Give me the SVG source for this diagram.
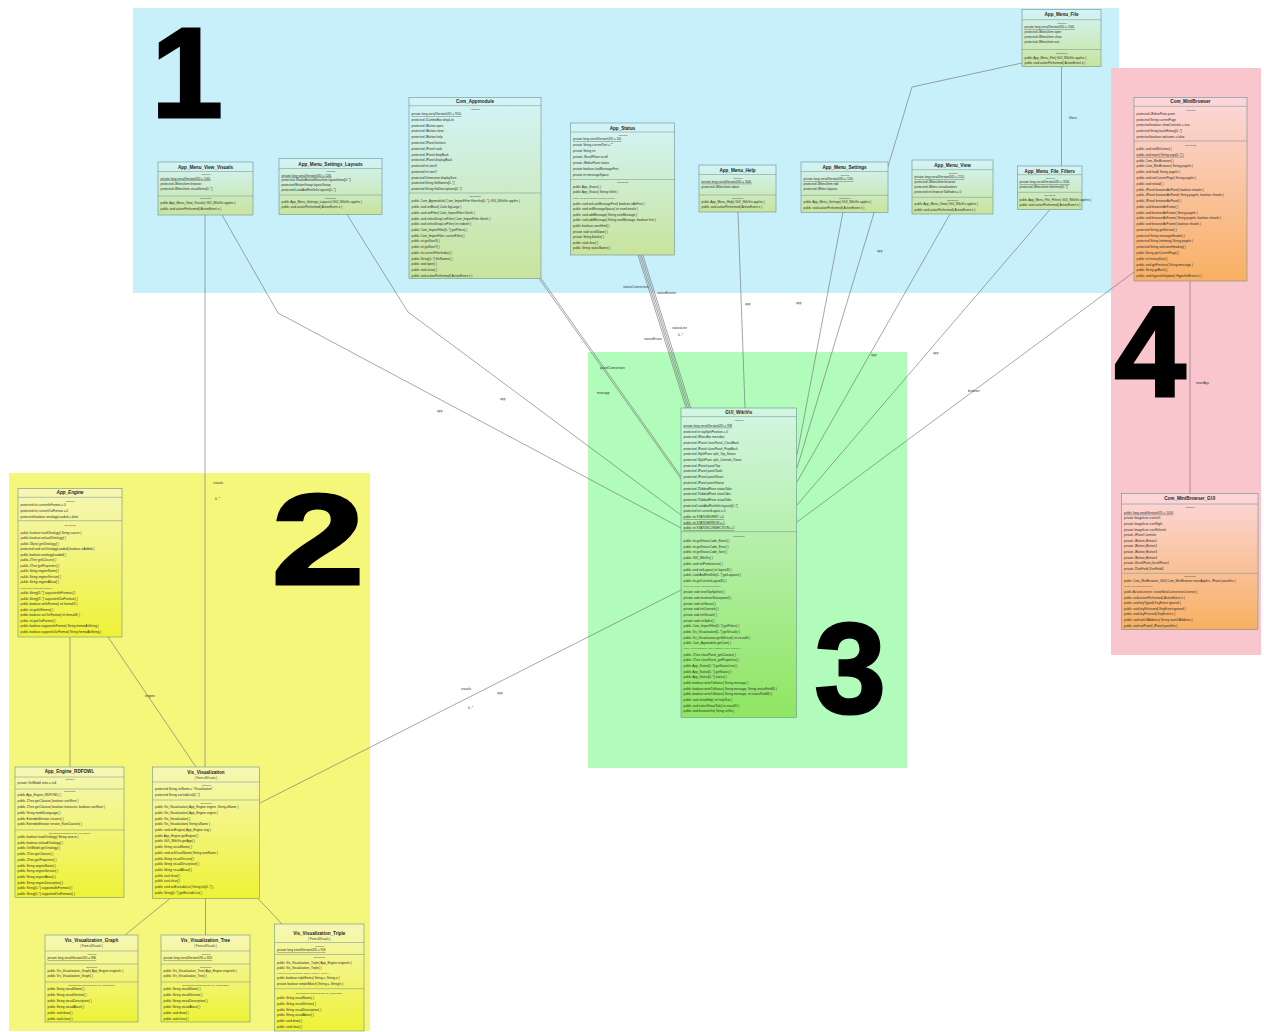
<svg xmlns="http://www.w3.org/2000/svg" width="1264" height="1032" viewBox="0 0 1264 1032">
<defs>
<linearGradient id="gBlue" x1="0" y1="0" x2="0" y2="1"><stop offset="0" stop-color="#d3f4f8"/><stop offset="1" stop-color="#c8e49c"/></linearGradient>
<linearGradient id="gGreen" x1="0" y1="0" x2="0" y2="1"><stop offset="0" stop-color="#d2f6e2"/><stop offset="1" stop-color="#8fe661"/></linearGradient>
<linearGradient id="gYellow" x1="0" y1="0" x2="0" y2="1"><stop offset="0" stop-color="#f6f7b6"/><stop offset="1" stop-color="#eef236"/></linearGradient>
<linearGradient id="gPink" x1="0" y1="0" x2="0" y2="1"><stop offset="0" stop-color="#fcd7dc"/><stop offset="1" stop-color="#f8b062"/></linearGradient>
<style>
text{font-family:"Liberation Sans",Arial,sans-serif}
.box{stroke:#6f8f8f;stroke-width:0.6}
.sep{stroke:#6f8f8f;stroke-width:0.5}
.t{font-weight:bold;font-size:4.6px;fill:#1e1e1e;text-anchor:middle}
.f{font-size:2.8px;fill:#333;text-anchor:middle}
.h{font-size:2.3px;fill:#444;text-anchor:middle}
.m{font-size:3.1px;fill:#2b2b2b}
.u{text-decoration:underline}
.i{font-style:italic}
.sq{font-size:2.2px;fill:#555}
.cn line,.cn polyline{stroke:#6c6c6c;stroke-width:0.6;fill:none}
.lb{font-size:3.3px;fill:#333}
.num{font-weight:bold;font-size:128px;fill:#000;stroke:#000;stroke-width:3;text-anchor:middle}
</style>
</defs>

<!-- package areas -->
<g id="areas">
<rect x="133" y="8" width="986" height="285" fill="#c8f0fa"/>
<rect x="1111" y="68" width="150" height="587" fill="#f9c6cd"/>
<rect x="9" y="473" width="361" height="558" fill="#f5f77b"/>
<rect x="588" y="352" width="319" height="416" fill="#b1fbbb"/>
</g>
<g id="area-numbers">
<text class="num" x="187" y="117">1</text>
<text class="num" x="318" y="584" transform="translate(318 0) scale(1.3 1) translate(-318 0)">2</text>
<text class="num" x="850" y="713">3</text>
<text class="num" x="1150" y="396">4</text>
</g>

<!-- associations -->
<g id="connectors" class="cn">
<line x1="1061.5" y1="66.5" x2="1061.5" y2="166"/>
<polyline points="1022,63 912,87 797,468"/>
<line x1="843" y1="212" x2="797" y2="455"/>
<line x1="950" y1="214" x2="797" y2="482"/>
<line x1="1050" y1="209.5" x2="797" y2="505"/>
<line x1="1134" y1="272" x2="797" y2="522"/>
<line x1="738" y1="212" x2="745" y2="408"/>
<line x1="539" y1="278.5" x2="681" y2="479"/>
<line x1="541" y1="278.5" x2="681" y2="476.5"/>
<line x1="638" y1="255" x2="686" y2="408"/>
<line x1="639.6" y1="255" x2="687.6" y2="408"/>
<line x1="641.2" y1="255" x2="689.2" y2="408"/>
<line x1="642.8" y1="255" x2="690.8" y2="408"/>
<polyline points="222,215 278,313 681,528"/>
<polyline points="347,214.5 408,312 681,515"/>
<line x1="260" y1="803" x2="681" y2="590"/>
<line x1="205" y1="215" x2="205" y2="767"/>
<line x1="70" y1="637" x2="70" y2="767"/>
<line x1="108" y1="637" x2="196" y2="767"/>
<line x1="170" y1="898.5" x2="125" y2="935"/>
<line x1="205.5" y1="898.5" x2="205.5" y2="935"/>
<line x1="258" y1="898.5" x2="282" y2="924"/>
<line x1="1190" y1="281" x2="1190" y2="493.5"/>
<text class="lb" x="1069" y="119">filters</text>
<text class="lb" x="877" y="252">app</text>
<text class="lb" x="796" y="304">app</text>
<text class="lb" x="745" y="305">app</text>
<text class="lb" x="871" y="356">app</text>
<text class="lb" x="933" y="354">app</text>
<text class="lb" x="968" y="392">browser</text>
<text class="lb" x="1196" y="384">mainApp</text>
<text class="lb" x="623" y="288">statusConnection</text>
<text class="lb" x="657" y="294">statusEvents</text>
<text class="lb" x="644" y="340">statusErrors</text>
<text class="lb" x="672" y="329">statusLine</text>
<text class="lb" x="678" y="336">0..*</text>
<text class="lb" x="600" y="369">panelConnection</text>
<text class="lb" x="597" y="394">mainapp</text>
<text class="lb" x="500" y="400">app</text>
<text class="lb" x="437" y="412">app</text>
<text class="lb" x="461" y="690">visuals</text>
<text class="lb" x="497" y="694">app</text>
<text class="lb" x="468" y="709">0..*</text>
<text class="lb" x="213" y="484">visuals</text>
<text class="lb" x="215" y="500">0..*</text>
<text class="lb" x="145" y="697">engine</text>
</g>

<!-- classes -->
<g id="App_Menu_File">
<rect class="box" x="1022" y="9.5" width="79" height="57" fill="url(#gBlue)"/>
<text class="t" x="1061.5" y="16.2">App_Menu_File</text>
<line class="sep" x1="1022" y1="19.7" x2="1101" y2="19.7"/>
<text class="h" x="1061.5" y="23.8">Attributes</text>
<text class="m u" x="1024.5" y="28.4">private long serialVersionUID = 200L</text>
<text class="m" x="1024.5" y="33.4">protected JMenuItem open</text>
<text class="m" x="1024.5" y="38.4">protected JMenuItem close</text>
<text class="m" x="1024.5" y="43.4">protected JMenuItem exit</text>
<line class="sep" x1="1022" y1="49.5" x2="1101" y2="49.5"/>
<text class="h" x="1061.5" y="53.6">Operations</text>
<text class="m" x="1024.5" y="58.9">public App_Menu_File( GUI_WikiVis appIns )</text>
<text class="m" x="1024.5" y="63.6">public void actionPerformed( ActionEvent e )</text>
</g>

<g id="App_Menu_File_Filters">
<rect class="box" x="1017.5" y="166" width="64.5" height="43.5" fill="url(#gBlue)"/>
<text class="t" x="1049.75" y="172.8">App_Menu_File_Filters</text>
<line class="sep" x1="1017.5" y1="174.7" x2="1082" y2="174.7"/>
<text class="h" x="1049.75" y="178.6">Attributes</text>
<text class="m u" x="1019.5" y="183.4">private long serialVersionUID = 313L</text>
<text class="m" x="1019.5" y="187.8">protected JMenuItem filterItem[0..*]</text>
<line class="sep" x1="1017.5" y1="192.3" x2="1082" y2="192.3"/>
<text class="h" x="1049.75" y="196.2">Operations</text>
<text class="m" x="1019.5" y="200.8">public App_Menu_File_Filters( GUI_WikiVis appIns )</text>
<text class="m" x="1019.5" y="205.8">public void actionPerformed( ActionEvent e )</text>
</g>

<g id="App_Menu_View">
<rect class="box" x="912" y="160" width="81" height="54" fill="url(#gBlue)"/>
<text class="t" x="952.5" y="167">App_Menu_View</text>
<line class="sep" x1="912" y1="169.7" x2="993" y2="169.7"/>
<text class="h" x="952.5" y="173.8">Attributes</text>
<text class="m u" x="914.5" y="178.1">private long serialVersionUID = 211L</text>
<text class="m" x="914.5" y="183.1">protected JMenuItem browser</text>
<text class="m" x="914.5" y="188.4">protected JMenu visualisations</text>
<text class="m" x="914.5" y="193.4">protected int browserTabIndex = 0</text>
<line class="sep" x1="912" y1="197.3" x2="993" y2="197.3"/>
<text class="h" x="952.5" y="201.1">Operations</text>
<text class="m" x="914.5" y="205.1">public App_Menu_View( GUI_WikiVis appIns )</text>
<text class="m" x="914.5" y="210.8">public void actionPerformed( ActionEvent e )</text>
</g>

<g id="App_Menu_Settings">
<rect class="box" x="801" y="162" width="87" height="50.3" fill="url(#gBlue)"/>
<text class="t" x="844.5" y="169.4">App_Menu_Settings</text>
<line class="sep" x1="801" y1="171.5" x2="888" y2="171.5"/>
<text class="h" x="844.5" y="176.1">Attributes</text>
<text class="m u" x="803.5" y="180.1">private long serialVersionUID = 110L</text>
<text class="m" x="803.5" y="185.1">protected JMenuItem edit</text>
<text class="m" x="803.5" y="189.8">protected JMenu layouts</text>
<line class="sep" x1="801" y1="195.3" x2="888" y2="195.3"/>
<text class="h" x="844.5" y="198.8">Operations</text>
<text class="m" x="803.5" y="203.4">public App_Menu_Settings( GUI_WikiVis appIns )</text>
<text class="m" x="803.5" y="209.1">public void actionPerformed( ActionEvent e )</text>
</g>

<g id="App_Menu_Help">
<rect class="box" x="699" y="165" width="77" height="47" fill="url(#gBlue)"/>
<text class="t" x="737.5" y="172">App_Menu_Help</text>
<line class="sep" x1="699" y1="174.5" x2="776" y2="174.5"/>
<text class="h" x="737.5" y="178.5">Attributes</text>
<text class="m u" x="701.5" y="182.8">private long serialVersionUID = 300L</text>
<text class="m" x="701.5" y="188">protected JMenuItem about</text>
<line class="sep" x1="699" y1="195" x2="776" y2="195"/>
<text class="h" x="737.5" y="198.6">Operations</text>
<text class="m" x="701.5" y="202.8">public App_Menu_Help( GUI_WikiVis appIns )</text>
<text class="m" x="701.5" y="207.8">public void actionPerformed( ActionEvent e )</text>
</g>

<g id="App_Menu_View_Visuals">
<rect class="box" x="158" y="162" width="95" height="53" fill="url(#gBlue)"/>
<text class="t" x="205.5" y="168.8">App_Menu_View_Visuals</text>
<line class="sep" x1="158" y1="171.5" x2="253" y2="171.5"/>
<text class="h" x="205.5" y="175.2">Attributes</text>
<text class="m u" x="160.5" y="179.6">private long serialVersionUID = 100L</text>
<text class="m" x="160.5" y="184.6">protected JMenuItem browser</text>
<text class="m" x="160.5" y="189.6">protected JMenuItem visualItems[0..*]</text>
<line class="sep" x1="158" y1="196" x2="253" y2="196"/>
<text class="h" x="205.5" y="199.3">Operations</text>
<text class="m" x="160.5" y="204">public App_Menu_View_Visuals( GUI_WikiVis appIns )</text>
<text class="m" x="160.5" y="209.5">public void actionPerformed( ActionEvent e )</text>
</g>

<g id="App_Menu_Settings_Layouts">
<rect class="box" x="279" y="158.5" width="103" height="56" fill="url(#gBlue)"/>
<text class="t" x="330.5" y="165.5">App_Menu_Settings_Layouts</text>
<line class="sep" x1="279" y1="168.5" x2="382" y2="168.5"/>
<text class="h" x="330.5" y="172.2">Attributes</text>
<text class="m u" x="281.5" y="176.6">private long serialVersionUID = 120L</text>
<text class="m" x="281.5" y="181.4">protected JRadioButtonMenuItem layoutItems[0..*]</text>
<text class="m" x="281.5" y="186.2">protected ButtonGroup layoutGroup</text>
<text class="m" x="281.5" y="191">protected LookAndFeelInfo layouts[0..*]</text>
<line class="sep" x1="279" y1="195" x2="382" y2="195"/>
<text class="h" x="330.5" y="198.6">Operations</text>
<text class="m" x="281.5" y="203">public App_Menu_Settings_Layouts( GUI_WikiVis appIns )</text>
<text class="m" x="281.5" y="208.2">public void actionPerformed( ActionEvent e )</text>
</g>

<g id="Com_Appmodule">
<rect class="box" x="409" y="97.5" width="132" height="181" fill="url(#gBlue)"/>
<text class="t" x="475" y="103">Com_Appmodule</text>
<line class="sep" x1="409" y1="105.7" x2="541" y2="105.7"/>
<text class="h" x="475" y="109.8">Attributes</text>
<text class="m u" x="411.5" y="115.1">private long serialVersionUID = 911L</text>
<text class="m" x="411.5" y="120.9">protected JComboBox dropList</text>
<text class="m" x="411.5" y="126.6">protected JButton open</text>
<text class="m" x="411.5" y="132.4">protected JButton close</text>
<text class="m" x="411.5" y="138.2">protected JButton help</text>
<text class="m" x="411.5" y="144">protected JPanel buttons</text>
<text class="m" x="411.5" y="149.7">protected JPanel tools</text>
<text class="m" x="411.5" y="155.5">protected JPanel dropBack</text>
<text class="m" x="411.5" y="161.3">protected JPanel displayBack</text>
<text class="m" x="411.5" y="167">protected int sizeX</text>
<text class="m" x="411.5" y="172.8">protected int sizeY</text>
<text class="m" x="411.5" y="178.6">protected Dimension displaySize</text>
<text class="m" x="411.5" y="184.3">protected String fileNames[0..*]</text>
<text class="m" x="411.5" y="190.1">protected String fileDescriptions[0..*]</text>
<line class="sep" x1="409" y1="193" x2="541" y2="193"/>
<text class="h" x="475" y="197.1">Operations</text>
<text class="m" x="411.5" y="202.4">public Com_Appmodule( Com_ImportFilter filtersIns[0..*], GUI_WikiVis appIns )</text>
<text class="m" x="411.5" y="208.1">public void setBack( Color bgLarge )</text>
<text class="m" x="411.5" y="213.8">public void setFilter( Com_ImportFilter filterIn )</text>
<text class="m" x="411.5" y="219.6">public void selectDropListFilter( Com_ImportFilter filterIn )</text>
<text class="m" x="411.5" y="225.3">public void selectDropListFilter( int indexIn )</text>
<text class="m" x="411.5" y="231">public Com_ImportFilter[0..*] getFilters( )</text>
<text class="m" x="411.5" y="236.7">public Com_ImportFilter currentFilter( )</text>
<text class="m" x="411.5" y="242.4">public int getSizeX( )</text>
<text class="m" x="411.5" y="248.2">public int getSizeY( )</text>
<text class="m" x="411.5" y="253.9">public int currentFilterIndex( )</text>
<text class="m" x="411.5" y="259.6">public String[0..*] fileNames( )</text>
<text class="m" x="411.5" y="265.3">public void open( )</text>
<text class="m" x="411.5" y="271">public void close( )</text>
<text class="m" x="411.5" y="276.8">public void actionPerformed( ActionEvent e )</text>
</g>

<g id="App_Status">
<rect class="box" x="570.5" y="123" width="104" height="132" fill="url(#gBlue)"/>
<text class="t" x="622.5" y="129.8">App_Status</text>
<line class="sep" x1="570.5" y1="132" x2="674.5" y2="132"/>
<text class="h" x="622.5" y="135.9">Attributes</text>
<text class="m u" x="573" y="140.1">private long serialVersionUID = 10L</text>
<text class="m" x="573" y="146">private String currentText = ""</text>
<text class="m" x="573" y="151.9">private String str</text>
<text class="m" x="573" y="157.8">private JScrollPane scroll</text>
<text class="m" x="573" y="163.7">private JEditorPane status</text>
<text class="m" x="573" y="169.6">private boolean lastMessageFirst</text>
<text class="m" x="573" y="175.5">private int messageSpace</text>
<line class="sep" x1="570.5" y1="179.5" x2="674.5" y2="179.5"/>
<text class="h" x="622.5" y="183.4">Operations</text>
<text class="m" x="573" y="187.8">public App_Status( )</text>
<text class="m" x="573" y="193.4">public App_Status( String titleIn )</text>
<text class="m sq" x="573" y="198.6">public void showAsFirst( boolean isAsFirst )</text>
<text class="m" x="573" y="204.6">public void setLastMessageFirst( boolean isAsFirst )</text>
<text class="m" x="573" y="210.2">public void setMessageSpace( int numLinesIn )</text>
<text class="m" x="573" y="215.8">public void addMessage( String newMessage )</text>
<text class="m" x="573" y="221.4">public void addMessage( String newMessage, boolean first )</text>
<text class="m" x="573" y="227">public boolean usesHtml( )</text>
<text class="m" x="573" y="232.6">private void scrollDown( )</text>
<text class="m" x="573" y="238.2">private String blanks( )</text>
<text class="m" x="573" y="243.8">public void clear( )</text>
<text class="m" x="573" y="249.4">public String statusName( )</text>
</g>

<g id="Com_MiniBrowser">
<rect class="box" x="1134" y="97.5" width="113" height="183.5" fill="url(#gPink)"/>
<text class="t" x="1190.5" y="103.2">Com_MiniBrowser</text>
<line class="sep" x1="1134" y1="106.3" x2="1247" y2="106.3"/>
<text class="h" x="1190.5" y="110.5">Attributes</text>
<text class="m" x="1136.5" y="115.1">protected JEditorPane pane</text>
<text class="m" x="1136.5" y="120.7">protected String currentPage</text>
<text class="m" x="1136.5" y="126.3">protected boolean showControls = true</text>
<text class="m" x="1136.5" y="131.9">protected String backHistory[0..*]</text>
<text class="m" x="1136.5" y="137.5">protected boolean welcome = false</text>
<line class="sep" x1="1134" y1="141" x2="1247" y2="141"/>
<text class="h" x="1190.5" y="145.5">Operations</text>
<text class="m" x="1136.5" y="150.1">public void setWelcome( )</text>
<text class="m u" x="1136.5" y="155.9">public void main( String args[0..*] )</text>
<text class="m" x="1136.5" y="161.6">public Com_MiniBrowser( )</text>
<text class="m" x="1136.5" y="167.4">public Com_MiniBrowser( String pageIn )</text>
<text class="m" x="1136.5" y="173.2">public void load( String pageIn )</text>
<text class="m" x="1136.5" y="178.9">public void setCurrentPage( String pageIn )</text>
<text class="m" x="1136.5" y="184.7">public void reload( )</text>
<text class="m" x="1136.5" y="190.5">public JPanel browserAsPanel( boolean showIn )</text>
<text class="m" x="1136.5" y="196.3">public JPanel browserAsPanel( String pageIn, boolean showIn )</text>
<text class="m" x="1136.5" y="202">public JPanel browserAsPanel( )</text>
<text class="m" x="1136.5" y="207.8">public void browserAsFrame( )</text>
<text class="m" x="1136.5" y="213.6">public void browserAsFrame( String pageIn )</text>
<text class="m" x="1136.5" y="219.3">public void browserAsFrame( String pageIn, boolean showIn )</text>
<text class="m" x="1136.5" y="225.1">public void browserAsFrame( boolean showIn )</text>
<text class="m" x="1136.5" y="230.9">protected String getVersion( )</text>
<text class="m" x="1136.5" y="236.7">protected String messageHeader( )</text>
<text class="m" x="1136.5" y="242.4">protected String htmlmsg( String pageIn )</text>
<text class="m" x="1136.5" y="248.2">protected String welcomeHeading( )</text>
<text class="m" x="1136.5" y="254">public String getCurrentPage( )</text>
<text class="m" x="1136.5" y="259.7">public int historySize( )</text>
<text class="m" x="1136.5" y="265.5">public void goPrevious( String message )</text>
<text class="m" x="1136.5" y="271.3">public String goBack( )</text>
<text class="m" x="1136.5" y="277">public void hyperlinkUpdate( HyperlinkEvent e )</text>
</g>

<g id="Com_MiniBrowser_GUI">
<rect class="box" x="1121.5" y="493.5" width="136.5" height="136" fill="url(#gPink)"/>
<text class="t" x="1189.75" y="500.2">Com_MiniBrowser_GUI</text>
<line class="sep" x1="1121.5" y1="504" x2="1258" y2="504"/>
<text class="h" x="1189.75" y="508">Attributes</text>
<text class="m u" x="1124" y="513.8">public long serialVersionUID = 1030</text>
<text class="m" x="1124" y="519.4">private ImageIcon iconLeft</text>
<text class="m" x="1124" y="525">private ImageIcon iconRight</text>
<text class="m" x="1124" y="530.6">private ImageIcon iconRefresh</text>
<text class="m" x="1124" y="536.2">private JPanel Controls</text>
<text class="m" x="1124" y="541.8">private JButton jButton1</text>
<text class="m" x="1124" y="547.4">private JButton jButton2</text>
<text class="m" x="1124" y="553">private JButton jButton3</text>
<text class="m" x="1124" y="558.6">private JButton jButton4</text>
<text class="m" x="1124" y="564.2">private JScrollPane jScrollPane1</text>
<text class="m" x="1124" y="569.8">private JTextField jTextField1</text>
<line class="sep" x1="1121.5" y1="573.3" x2="1258" y2="573.3"/>
<text class="h" x="1189.75" y="577.2">Operations</text>
<text class="m" x="1124" y="581.8">public Com_MiniBrowser_GUI( Com_MiniBrowser mainAppIns, JPanel panelIns )</text>
<text class="m sq" x="1124" y="587">private void initComponents( )</text>
<text class="m" x="1124" y="593">public ActionListener createNewConnectionListener( )</text>
<text class="m" x="1124" y="598.6">public void actionPerformed( ActionEvent e )</text>
<text class="m" x="1124" y="604.2">public void keyTyped( KeyEvent ignored )</text>
<text class="m" x="1124" y="609.8">public void keyReleased( KeyEvent ignored )</text>
<text class="m" x="1124" y="615.4">public void keyPressed( KeyEvent e )</text>
<text class="m" x="1124" y="621">public void setUrlAddress( String newUrlAddress )</text>
<text class="m" x="1124" y="626.6">public void setPanel( JPanel panelIns )</text>
</g>

<g id="GUI_WikiVis">
<rect class="box" x="681" y="408" width="115.5" height="309.5" fill="url(#gGreen)"/>
<text class="t" x="738.75" y="413.9">GUI_WikiVis</text>
<line class="sep" x1="681" y1="416.6" x2="796.5" y2="416.6"/>
<text class="h" x="738.75" y="421.4">Attributes</text>
<text class="m u" x="683.5" y="426.8">private long serialVersionUID = 958</text>
<text class="m" x="683.5" y="432.5">protected int topSplitPosition = 0</text>
<text class="m" x="683.5" y="438.2">protected JMenuBar menubar</text>
<text class="m" x="683.5" y="443.9">protected JPanel classPanel_ClassBack</text>
<text class="m" x="683.5" y="449.6">protected JPanel classPanel_PropBack</text>
<text class="m" x="683.5" y="455.3">protected JSplitPane split_Top_Status</text>
<text class="m" x="683.5" y="461">protected JSplitPane split_Controls_Views</text>
<text class="m" x="683.5" y="466.7">protected JPanel panelTop</text>
<text class="m" x="683.5" y="472.4">protected JPanel panelTools</text>
<text class="m" x="683.5" y="478.1">protected JPanel panelViews</text>
<text class="m" x="683.5" y="483.8">protected JPanel panelStatus</text>
<text class="m" x="683.5" y="489.5">protected JTabbedPane statusTabs</text>
<text class="m" x="683.5" y="495.2">protected JTabbedPane classTabs</text>
<text class="m" x="683.5" y="500.9">protected JTabbedPane visualTabs</text>
<text class="m" x="683.5" y="506.6">protected LookAndFeelInfo layouts[0..*]</text>
<text class="m" x="683.5" y="512.3">protected int currentLayout = 0</text>
<text class="m u" x="683.5" y="518">public int STATUSEVENT = 0</text>
<text class="m u" x="683.5" y="523.7">public int STATUSERROR = 1</text>
<text class="m u" x="683.5" y="529.4">public int STATUSCONNECTION = 2</text>
<line class="sep" x1="681" y1="531.7" x2="796.5" y2="531.7"/>
<text class="h" x="738.75" y="536.8">Operations</text>
<text class="m" x="683.5" y="542.1">public int getStatusCode_Event( )</text>
<text class="m" x="683.5" y="547.8">public int getStatusCode_Error( )</text>
<text class="m" x="683.5" y="553.4">public int getStatusCode_Sort( )</text>
<text class="m" x="683.5" y="559.1">public GUI_WikiVis( )</text>
<text class="m" x="683.5" y="564.8">public void setPreferences( )</text>
<text class="m" x="683.5" y="570.5">public void setLayout( int layoutID )</text>
<text class="m" x="683.5" y="576.1">public LookAndFeelInfo[0..*] getLayouts( )</text>
<text class="m" x="683.5" y="581.8">public int getCurrentLayoutID( )</text>
<text class="m sq" x="683.5" y="587">public void createActionsConnections( )</text>
<text class="m" x="683.5" y="593.1">private void resetTopSplitter( )</text>
<text class="m" x="683.5" y="598.8">private void minimizeStatuspanel( )</text>
<text class="m" x="683.5" y="604.5">private void initStatus( )</text>
<text class="m" x="683.5" y="610.1">private void initControls( )</text>
<text class="m" x="683.5" y="615.8">private void initVisuals( )</text>
<text class="m" x="683.5" y="621.5">private void initSplits( )</text>
<text class="m" x="683.5" y="627.1">public Com_ImportFilter[0..*] getFilters( )</text>
<text class="m" x="683.5" y="632.8">public Vis_Visualization[0..*] getVisuals( )</text>
<text class="m" x="683.5" y="638.5">public Vis_Visualization getIdVisual( int visualId )</text>
<text class="m" x="683.5" y="644.2">public Com_Appmodule getCom( )</text>
<text class="m sq" x="683.5" y="649.3">public void setClassTree( JTree classTree, JTree propTree )</text>
<text class="m" x="683.5" y="655.5">public JTree classPanel_getClasses( )</text>
<text class="m" x="683.5" y="661.2">public JTree classPanel_getProperties( )</text>
<text class="m" x="683.5" y="666.8">public App_Status[0..*] getStatusLine( )</text>
<text class="m" x="683.5" y="672.5">public App_Status[0..*] getStatus( )</text>
<text class="m" x="683.5" y="678.2">public App_Status[0..*] status( )</text>
<text class="m" x="683.5" y="683.9">public boolean writeToStatus( String message )</text>
<text class="m" x="683.5" y="689.5">public boolean writeToStatus( String message, String statusFieldID )</text>
<text class="m" x="683.5" y="695.2">public boolean writeToStatus( String message, int statusFieldID )</text>
<text class="m" x="683.5" y="700.9">public void showHelp( int helpText )</text>
<text class="m" x="683.5" y="706.5">public void selectVisualTab( int visualID )</text>
<text class="m" x="683.5" y="712.2">public void browserGo( String urlGo )</text>
</g>

<g id="App_Engine">
<rect class="box" x="18" y="488.5" width="104" height="148.5" fill="url(#gYellow)"/>
<text class="t i" x="70" y="494.2">App_Engine</text>
<line class="sep" x1="18" y1="497.3" x2="122" y2="497.3"/>
<text class="h" x="70" y="501.8">Attributes</text>
<text class="m" x="20.5" y="506.1">protected int currentInFormat = 0</text>
<text class="m" x="20.5" y="511.8">protected int currentOutFormat = 0</text>
<text class="m" x="20.5" y="517.6">protected boolean ontologyLoaded = false</text>
<line class="sep" x1="18" y1="520.7" x2="122" y2="520.7"/>
<text class="h" x="70" y="525.5">Operations</text>
<text class="m i" x="20.5" y="533.8">public boolean loadOntology( String source )</text>
<text class="m i" x="20.5" y="539.3">public boolean unloadOntology( )</text>
<text class="m i" x="20.5" y="544.8">public Object getOntology( )</text>
<text class="m" x="20.5" y="550.3">protected void setOntologyLoaded( boolean isAdded )</text>
<text class="m" x="20.5" y="555.8">public boolean ontologyLoaded( )</text>
<text class="m i" x="20.5" y="561.3">public JTree getClasses( )</text>
<text class="m i" x="20.5" y="566.8">public JTree getProperties( )</text>
<text class="m i" x="20.5" y="572.3">public String engineName( )</text>
<text class="m i" x="20.5" y="577.8">public String engineVersion( )</text>
<text class="m i" x="20.5" y="583.3">public String engineAbout( )</text>
<text class="m sq i" x="20.5" y="588.5">public String engineDescription( )</text>
<text class="m i" x="20.5" y="594.3">public String[0..*] supportedInFormats( )</text>
<text class="m i" x="20.5" y="599.8">public String[0..*] supportedOutFormats( )</text>
<text class="m" x="20.5" y="605.3">public boolean setInFormat( int formatID )</text>
<text class="m" x="20.5" y="610.8">public int getInFormat( )</text>
<text class="m" x="20.5" y="616.3">public boolean setOutFormat( int formatID )</text>
<text class="m" x="20.5" y="621.8">public int getOutFormat( )</text>
<text class="m" x="20.5" y="627.3">public boolean supportsInFormat( String formatAsString )</text>
<text class="m" x="20.5" y="632.8">public boolean supportsOutFormat( String formatAsString )</text>
</g>

<g id="App_Engine_RDFOWL">
<rect class="box" x="15" y="767" width="109" height="130.5" fill="url(#gYellow)"/>
<text class="t" x="69.5" y="773.3">App_Engine_RDFOWL</text>
<line class="sep" x1="15" y1="777" x2="124" y2="777"/>
<text class="h" x="69.5" y="780.3">Attributes</text>
<text class="m" x="17.5" y="784.4">private OntModel onto = null</text>
<line class="sep" x1="15" y1="789" x2="124" y2="789"/>
<text class="h" x="69.5" y="791.8">Operations</text>
<text class="m" x="17.5" y="796.4">public App_Engine_RDFOWL( )</text>
<text class="m" x="17.5" y="802.2">public JTree getClasses( boolean useShort )</text>
<text class="m" x="17.5" y="808">public JTree getClasses( boolean instances, boolean useShort )</text>
<text class="m" x="17.5" y="813.8">public String modelLanguage( )</text>
<text class="m" x="17.5" y="819.6">public ExtendedIterator classes( )</text>
<text class="m" x="17.5" y="825.4">public ExtendedIterator iterator_RootClasses( )</text>
<line class="sep" x1="15" y1="830" x2="124" y2="830"/>
<text class="h" x="69.5" y="833.8">Operations Redefined From App_Engine</text>
<text class="m" x="17.5" y="838.1">public boolean loadOntology( String source )</text>
<text class="m" x="17.5" y="843.8">public boolean unloadOntology( )</text>
<text class="m" x="17.5" y="849.4">public OntModel getOntology( )</text>
<text class="m" x="17.5" y="855.1">public JTree getClasses( )</text>
<text class="m" x="17.5" y="860.8">public JTree getProperties( )</text>
<text class="m" x="17.5" y="866.5">public String engineName( )</text>
<text class="m" x="17.5" y="872.1">public String engineVersion( )</text>
<text class="m" x="17.5" y="877.8">public String engineAbout( )</text>
<text class="m" x="17.5" y="883.5">public String engineDescription( )</text>
<text class="m" x="17.5" y="889.1">public String[0..*] supportedInFormats( )</text>
<text class="m" x="17.5" y="894.8">public String[0..*] supportedOutFormats( )</text>
</g>

<g id="Vis_Visualization">
<rect class="box" x="152.5" y="767" width="107" height="131.5" fill="url(#gYellow)"/>
<text class="t" x="206" y="773.5">Vis_Visualization</text>
<text class="f" x="206" y="779.1">{ From allVisuals }</text>
<line class="sep" x1="152.5" y1="782" x2="259.5" y2="782"/>
<text class="h" x="206" y="786.1">Attributes</text>
<text class="m" x="155" y="790.1">protected String visName = "Visualization"</text>
<text class="m" x="155" y="796.1">protected String excludeList[0..*]</text>
<line class="sep" x1="152.5" y1="800" x2="259.5" y2="800"/>
<text class="h" x="206" y="803.8">Operations</text>
<text class="m" x="155" y="808.1">public Vis_Visualization( App_Engine engine, String aName )</text>
<text class="m" x="155" y="813.8">public Vis_Visualization( App_Engine engine )</text>
<text class="m" x="155" y="819.5">public Vis_Visualization( )</text>
<text class="m" x="155" y="825.2">public Vis_Visualization( String aName )</text>
<text class="m" x="155" y="830.9">public void setEngine( App_Engine eng )</text>
<text class="m" x="155" y="836.7">public App_Engine getEngine( )</text>
<text class="m" x="155" y="842.4">public GUI_WikiVis getApp( )</text>
<text class="m" x="155" y="848.1">public String visualName( )</text>
<text class="m" x="155" y="853.8">public void setVisualName( String newName )</text>
<text class="m i" x="155" y="859.5">public String visualVersion( )</text>
<text class="m i" x="155" y="865.2">public String visualDescription( )</text>
<text class="m i" x="155" y="870.9">public String visualAbout( )</text>
<text class="m i" x="155" y="876.6">public void draw( )</text>
<text class="m i" x="155" y="882.3">public void clear( )</text>
<text class="m" x="155" y="888">public void setExcludeList( String list[0..*] )</text>
<text class="m" x="155" y="893.8">public String[0..*] getExcludeList( )</text>
</g>

<g id="Vis_Visualization_Graph">
<rect class="box" x="45" y="935" width="93" height="87" fill="url(#gYellow)"/>
<text class="t" x="91.5" y="941.5">Vis_Visualization_Graph</text>
<text class="f" x="91.5" y="947">{ From allVisuals }</text>
<line class="sep" x1="45" y1="951" x2="138" y2="951"/>
<text class="h" x="91.5" y="955.1">Attributes</text>
<text class="m u" x="47.5" y="959.1">private long serialVersionUID = 836</text>
<line class="sep" x1="45" y1="964" x2="138" y2="964"/>
<text class="h" x="91.5" y="967.8">Operations</text>
<text class="m" x="47.5" y="972.1">public Vis_Visualization_Graph( App_Engine engineIn )</text>
<text class="m" x="47.5" y="977.1">public Vis_Visualization_Graph( )</text>
<line class="sep" x1="45" y1="982" x2="138" y2="982"/>
<text class="h" x="91.5" y="985.5">Operations Redefined From Vis_Visualization</text>
<text class="m" x="47.5" y="990.4">public String visualName( )</text>
<text class="m" x="47.5" y="996.3">public String visualVersion( )</text>
<text class="m" x="47.5" y="1002.1">public String visualDescription( )</text>
<text class="m" x="47.5" y="1008">public String visualAbout( )</text>
<text class="m" x="47.5" y="1013.9">public void draw( )</text>
<text class="m" x="47.5" y="1019.8">public void clear( )</text>
</g>

<g id="Vis_Visualization_Tree">
<rect class="box" x="161" y="935" width="89" height="87" fill="url(#gYellow)"/>
<text class="t" x="205.5" y="941.5">Vis_Visualization_Tree</text>
<text class="f" x="205.5" y="947">{ From allVisuals }</text>
<line class="sep" x1="161" y1="951" x2="250" y2="951"/>
<text class="h" x="205.5" y="955.1">Attributes</text>
<text class="m u" x="163.5" y="959.1">private long serialVersionUID = 813</text>
<line class="sep" x1="161" y1="964" x2="250" y2="964"/>
<text class="h" x="205.5" y="967.8">Operations</text>
<text class="m" x="163.5" y="972.1">public Vis_Visualization_Tree( App_Engine engineIn )</text>
<text class="m" x="163.5" y="977.1">public Vis_Visualization_Tree( )</text>
<line class="sep" x1="161" y1="982" x2="250" y2="982"/>
<text class="h" x="205.5" y="985.5">Operations Redefined From Vis_Visualization</text>
<text class="m" x="163.5" y="990.4">public String visualName( )</text>
<text class="m" x="163.5" y="996.3">public String visualVersion( )</text>
<text class="m" x="163.5" y="1002.1">public String visualDescription( )</text>
<text class="m" x="163.5" y="1008">public String visualAbout( )</text>
<text class="m" x="163.5" y="1013.9">public void draw( )</text>
<text class="m" x="163.5" y="1019.8">public void clear( )</text>
</g>

<g id="Vis_Visualization_Triple">
<rect class="box" x="274.5" y="924" width="89.5" height="107" fill="url(#gYellow)"/>
<text class="t" x="319.25" y="934.6">Vis_Visualization_Triple</text>
<text class="f" x="319.25" y="939.6">{ From allVisuals }</text>
<line class="sep" x1="274.5" y1="942.5" x2="364" y2="942.5"/>
<text class="h" x="319.25" y="946.8">Attributes</text>
<text class="m u" x="277" y="951.1">private long serialVersionUID = 913</text>
<line class="sep" x1="274.5" y1="954.5" x2="364" y2="954.5"/>
<text class="h" x="319.25" y="958.3">Operations</text>
<text class="m" x="277" y="963.8">public Vis_Visualization_Triple( App_Engine engineIn )</text>
<text class="m" x="277" y="968.8">public Vis_Visualization_Triple( )</text>
<text class="m sq" x="277" y="973.9">public boolean tripleExists( String s, String p, String o )</text>
<text class="m" x="277" y="979.4">public boolean tripleExists( String s, String o )</text>
<text class="m" x="277" y="985.1">private boolean simpleMatch( String a, String b )</text>
<line class="sep" x1="274.5" y1="988.7" x2="364" y2="988.7"/>
<text class="h" x="319.25" y="993.8">Operations Redefined From Vis_Visualization</text>
<text class="m" x="277" y="999.1">public String visualName( )</text>
<text class="m" x="277" y="1004.8">public String visualVersion( )</text>
<text class="m" x="277" y="1010.5">public String visualDescription( )</text>
<text class="m" x="277" y="1016.2">public String visualAbout( )</text>
<text class="m" x="277" y="1021.9">public void draw( )</text>
<text class="m" x="277" y="1027.6">public void clear( )</text>
</g>
</svg>
